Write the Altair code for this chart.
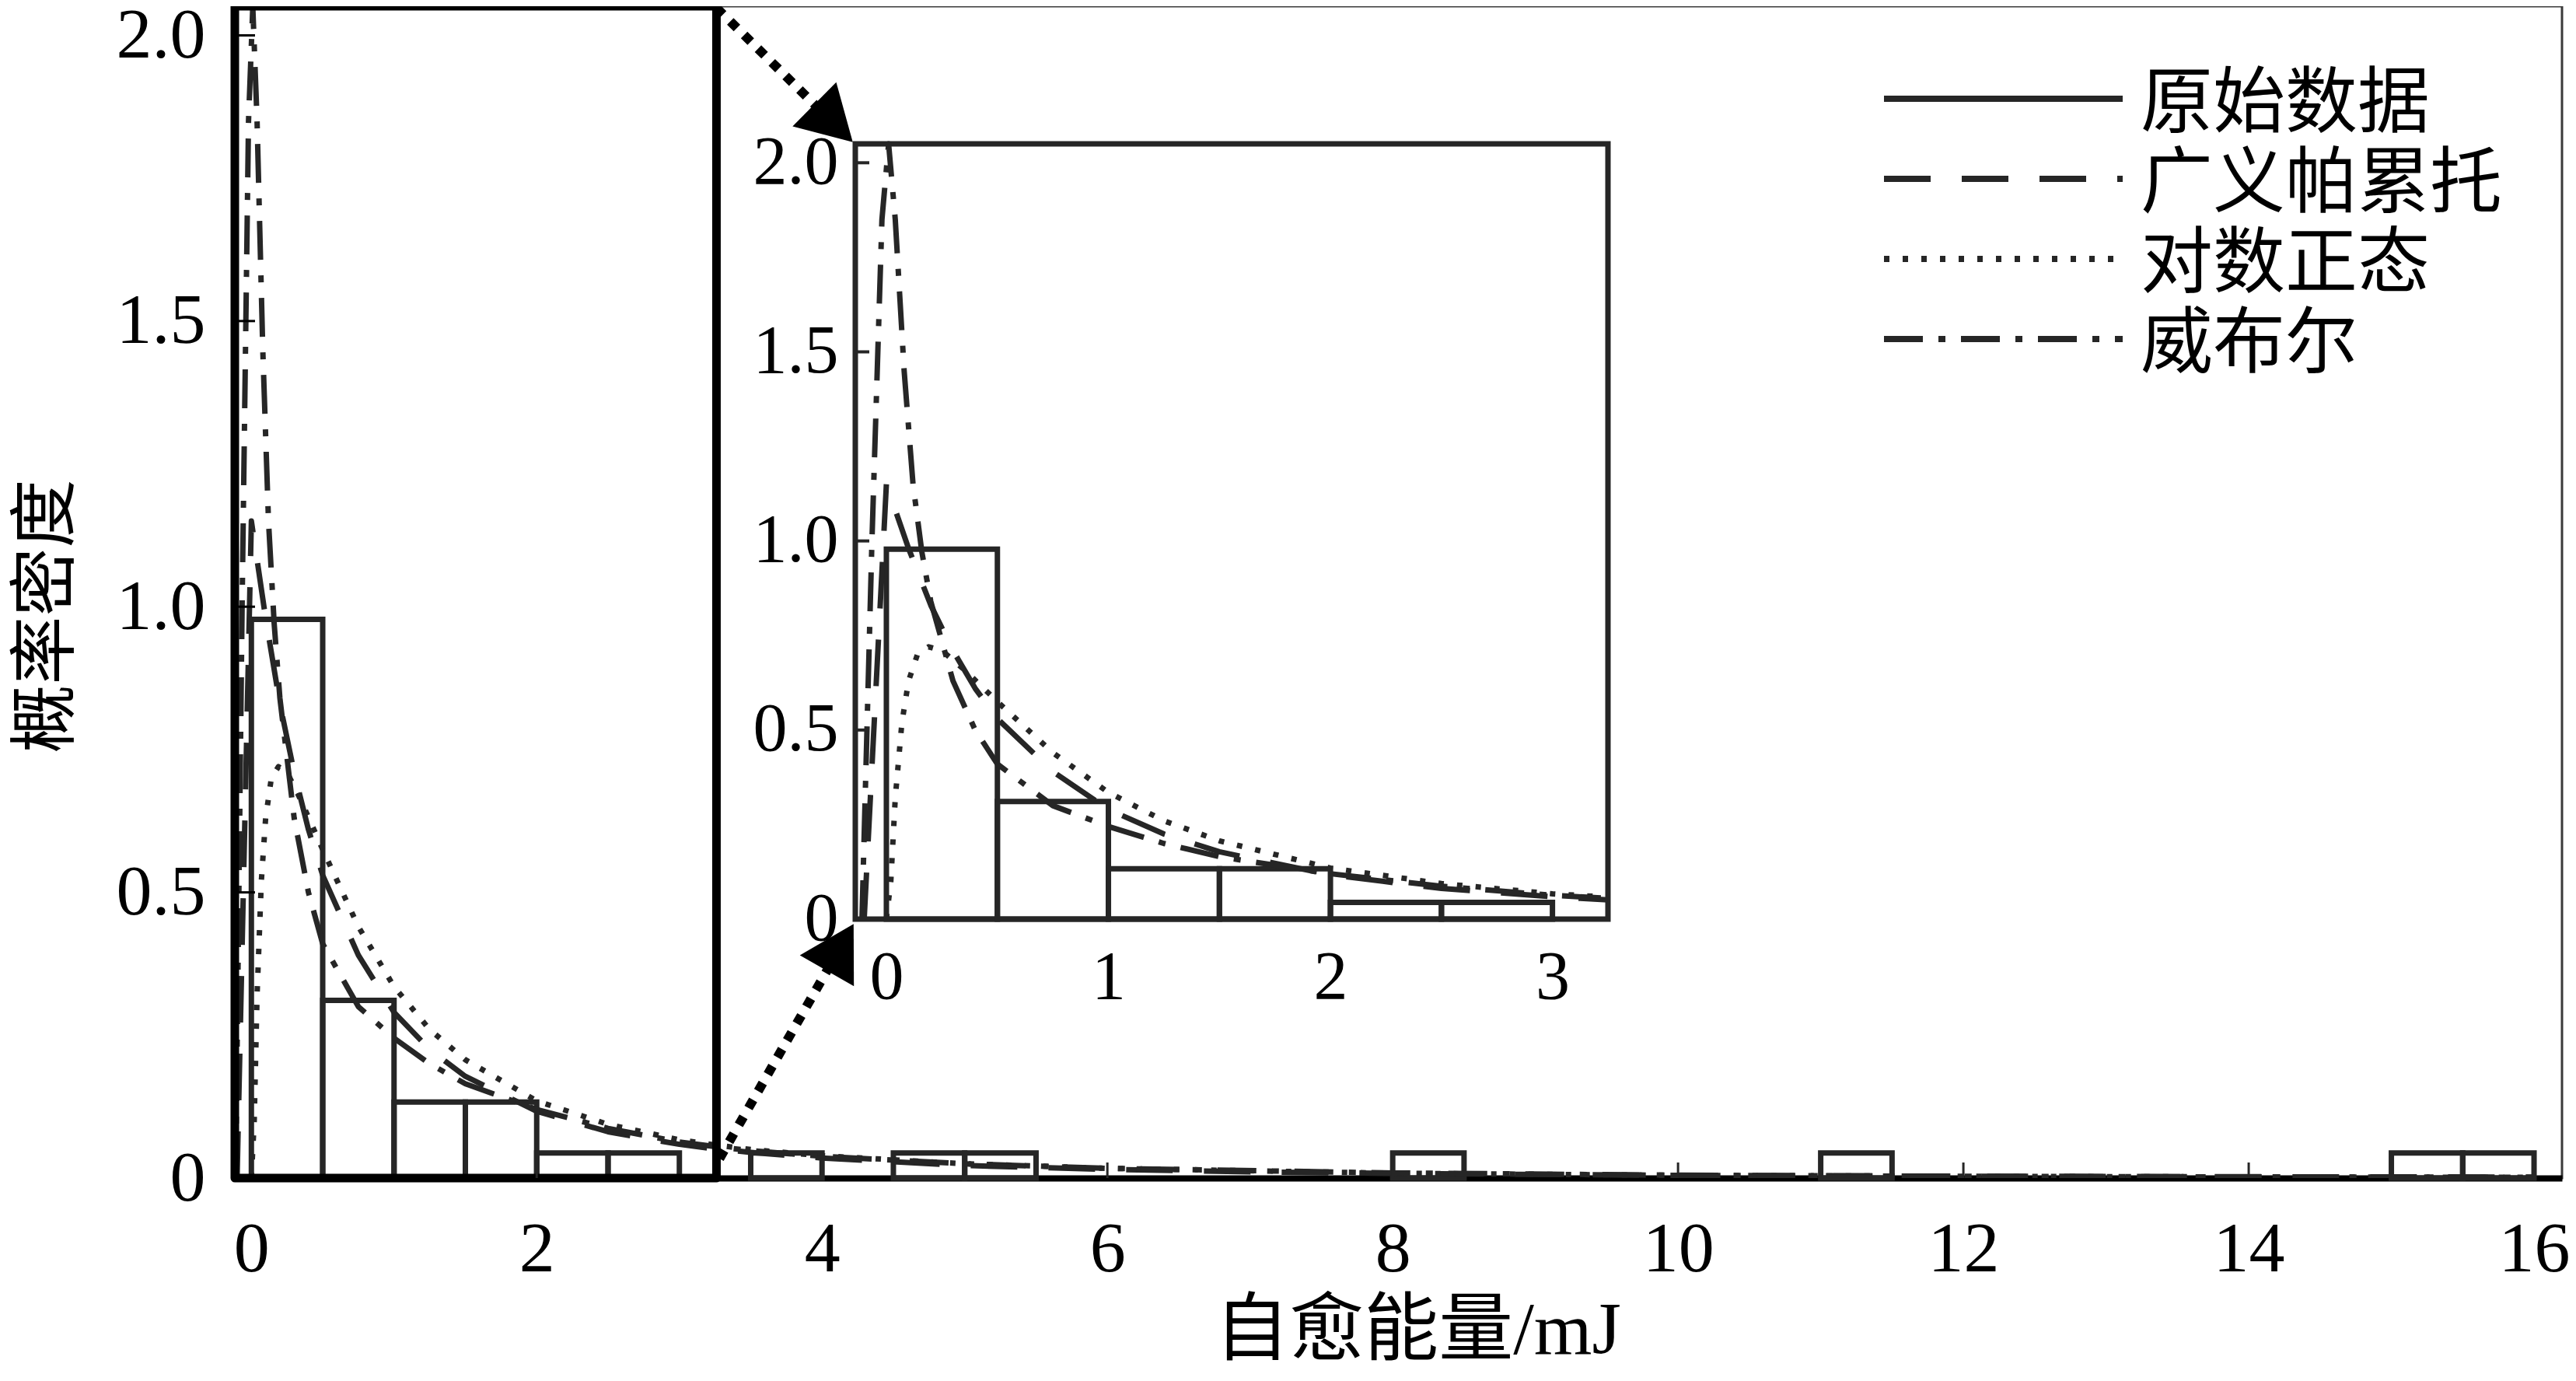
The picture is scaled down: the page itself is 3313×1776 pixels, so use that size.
import math
import altair as alt
import pandas as pd

# ---------------- data ----------------
legend_names = ["原始数据", "广义帕累托", "对数正态", "威布尔"]
x_title = "自愈能量/mJ"
y_title = "概率密度"

# histogram (density, bin width 0.5)
bin_start = [0.0, 0.5, 1.0, 1.5, 2.0, 2.5, 3.5, 4.5, 5.0, 8.0, 11.0, 15.0, 15.5]
bin_density = [0.978, 0.311, 0.133, 0.133, 0.044, 0.044, 0.044, 0.044, 0.044, 0.044, 0.044, 0.044, 0.044]
bin_width = 0.5

# generalized Pareto fit (dashed)
gpd_x = [-0.10, 0.0, 0.1, 0.2, 0.3, 0.4, 0.5, 0.75, 1.0, 1.25, 1.5, 2.0, 2.5, 3.0, 3.25,
         3.5, 4.0, 5.0, 6.0, 7.0, 8.0, 10.0, 12.0, 14.0, 16.0]
gpd_y = [0.0, 1.15, 0.98, 0.83, 0.71, 0.61, 0.53, 0.39, 0.29, 0.225, 0.178, 0.117, 0.081, 0.059, 0.051,
         0.045, 0.035, 0.022, 0.015, 0.011, 0.008, 0.0048, 0.0032, 0.0023, 0.0017]

# log-normal fit (dotted)
logn_x = [0.0, 0.02, 0.04, 0.07, 0.1, 0.14, 0.19, 0.25, 0.35, 0.5, 0.75, 1.0, 1.25, 1.5, 2.0, 2.5,
          3.0, 3.25, 3.5, 4.0, 5.0, 6.0, 8.0, 10.0, 12.0, 14.0, 16.0]
logn_y = [0.0, 0.1, 0.32, 0.52, 0.63, 0.7, 0.72, 0.71, 0.66, 0.575, 0.44, 0.335, 0.26, 0.207, 0.135, 0.094,
          0.067, 0.058, 0.05, 0.039, 0.025, 0.017, 0.0085, 0.0048, 0.003, 0.002, 0.0013]

# Weibull fit (dash-dot)
weib_x = [-0.11, -0.065, -0.02, 0.01, 0.04, 0.08, 0.12, 0.16, 0.2, 0.3, 0.4, 0.5, 0.75, 1.0, 1.25,
          1.5, 2.0, 2.5, 3.0, 3.25, 3.5, 4.0, 5.0, 6.0, 8.0, 10.0, 12.0, 14.0, 16.0]
weib_y = [0.0, 1.0, 1.85, 2.05, 1.85, 1.45, 1.15, 0.97, 0.84, 0.63, 0.5, 0.41, 0.3, 0.245, 0.2,
          0.165, 0.12, 0.087, 0.063, 0.055, 0.048, 0.038, 0.025, 0.017, 0.009, 0.005, 0.003, 0.002, 0.0013]

main_x_ticks = [0, 2, 4, 6, 8, 10, 12, 14, 16]
main_y_ticks = [0, 0.5, 1.0, 1.5, 2.0]
inset_x_ticks = [0, 1, 2, 3]
inset_y_ticks = [0, 0.5, 1.0, 1.5, 2.0]

# ---------------- layout / style ----------------
INK = "#262626"
NUM_FONT = "Liberation Serif"
CJK_FONT = "Liberation Serif, Noto Sans CJK SC"

W, H = 2993, 1507
PAD = {"left": 294, "top": 0, "right": 10, "bottom": 252}
X_DOM = [-0.116, 16.196]
Y_DOM = [0.0, 2.051]
IN_X_DOM = [-0.14, 3.25]
IN_Y_DOM = [0.0, 2.05]
IN_L, IN_R, IN_T, IN_B = 798, 1766, 177, 1174   # inset frame, plot-relative pixels
ZOOM_RIGHT = 3.26

DASH_GPD = [60, 40]
DASH_LOGN = [7, 17]
DASH_WEIB = [50, 20, 9, 20]


def dx(p):
    return X_DOM[0] + p / W * (X_DOM[1] - X_DOM[0])


def dy(p):
    return Y_DOM[0] + (H - p) / H * (Y_DOM[1] - Y_DOM[0])


def px(x):
    return (x - X_DOM[0]) / (X_DOM[1] - X_DOM[0]) * W


xs_main = alt.Scale(domain=X_DOM, nice=False, zero=False)
ys_main = alt.Scale(domain=Y_DOM, nice=False, zero=False)
xs_in = alt.Scale(domain=IN_X_DOM, range=[IN_L, IN_R], nice=False, zero=False)
ys_in = alt.Scale(domain=IN_Y_DOM, range=[IN_B, IN_T], nice=False, zero=False)

LABEL_EXPR = "datum.value == 0 ? '0' : format(datum.value, '.1f')"

ax_main_x = alt.Axis(values=main_x_ticks, orient="bottom", grid=False, ticks=False, tickSize=0,
                     domain=True, domainColor="black", domainWidth=8,
                     labelFont=NUM_FONT, labelFontSize=92, labelColor="black", labelPadding=91,
                     labelBaseline="middle", labelAlign="center", labelFlush=False, labelOverlap=False,
                     titleFont=CJK_FONT, titleFontSize=96, titleFontWeight="normal", titleColor="black",
                     titleX=1521, titleY=196, titleAlign="center", titleBaseline="middle")
ax_main_y = alt.Axis(values=main_y_ticks, orient="left", grid=False, ticks=False, tickSize=0,
                     domain=False, labelFont=NUM_FONT, labelFontSize=92, labelColor="black",
                     labelPadding=38, labelExpr=LABEL_EXPR, labelBaseline="middle",
                     labelFlush=False, labelOverlap=False,
                     titleFont=CJK_FONT, titleFontSize=88, titleFontWeight="normal", titleColor="black",
                     titleX=-242, titleY=784, titleAngle=270, titleAlign="center", titleBaseline="middle")
ax_in_x = alt.Axis(values=inset_x_ticks, orient="bottom", offset=IN_B - H, grid=False, ticks=False,
                   tickSize=0, domain=False, labelFont=NUM_FONT, labelFontSize=88, labelColor="black",
                   labelPadding=75, labelBaseline="middle", labelFlush=False, labelOverlap=False)
ax_in_y = alt.Axis(values=inset_y_ticks, orient="left", offset=-IN_L, grid=False, ticks=False,
                   tickSize=0, domain=False, labelFont=NUM_FONT, labelFontSize=88, labelColor="black",
                   labelPadding=22, labelExpr=LABEL_EXPR, labelBaseline="middle",
                   labelFlush=False, labelOverlap=False)


def XM(f):
    return alt.X(f"{f}:Q", scale=xs_main, axis=ax_main_x, title=x_title)


def YM(f):
    return alt.Y(f"{f}:Q", scale=ys_main, axis=ax_main_y, title=y_title)


def XI(f):
    return alt.X(f"{f}:Q", scale=xs_in, axis=ax_in_x, title="")


def YI(f):
    return alt.Y(f"{f}:Q", scale=ys_in, axis=ax_in_y, title="")


df_bins = pd.DataFrame({"x0": bin_start, "d": bin_density})
df_gpd = pd.DataFrame({"x": gpd_x, "y": gpd_y})
df_logn = pd.DataFrame({"x": logn_x, "y": logn_y})
df_weib = pd.DataFrame({"x": weib_x, "y": weib_y})
curves = [(df_gpd, DASH_GPD), (df_logn, DASH_LOGN), (df_weib, DASH_WEIB)]

# ---------------- main panel ----------------
bars_main = alt.Chart(df_bins).transform_calculate(
    x1=f"datum.x0 + {bin_width}", y0="0"
).mark_rect(fill="transparent", stroke=INK, strokeWidth=7, strokeJoin="miter").encode(
    x=XM("x0"), x2="x1:Q", y=YM("d"), y2="y0:Q")

main_layers = [bars_main]
for df, dash in curves:
    main_layers.append(
        alt.Chart(df).mark_line(stroke=INK, strokeWidth=7, strokeDash=dash, strokeCap="butt",
                                strokeJoin="round", clip=True)
        .encode(x=XM("x"), y=YM("y"), order="x:Q"))

# zoom rectangle on the main panel
df_zoom = pd.DataFrame({"x": [X_DOM[0]], "x2": [ZOOM_RIGHT], "y": [Y_DOM[0]], "y2": [Y_DOM[1]]})
main_layers.append(
    alt.Chart(df_zoom).mark_rect(fill="transparent", stroke="black", strokeWidth=11, strokeJoin="round")
    .encode(x=XM("x"), x2="x2:Q", y=YM("y"), y2="y2:Q"))

# inward ticks
df_yt = pd.DataFrame({"y": [v for v in main_y_ticks if v > 0]})
df_yt["x"] = X_DOM[0]
df_yt["x2"] = dx(26)
main_layers.append(alt.Chart(df_yt).mark_rule(color="black", strokeWidth=3)
                   .encode(x=XM("x"), x2="x2:Q", y=YM("y")))
df_xt = pd.DataFrame({"x": [v for v in main_x_ticks if v > 0]})
df_xt["y"] = Y_DOM[0]
df_xt["y2"] = dy(H - 20)
main_layers.append(alt.Chart(df_xt).mark_rule(color=INK, strokeWidth=3)
                   .encode(x=XM("x"), y=YM("y"), y2="y2:Q"))

# arrows from the zoom rectangle to the inset
arrows = [
    ((px(ZOOM_RIGHT), 2.0), (IN_L - 3, IN_T - 2)),
    ((px(ZOOM_RIGHT) + 4, H - 25), (IN_L - 2, IN_B + 6)),
]
HEAD = 35
rows, heads = [], []
for (sx, sy), (tx, ty) in arrows:
    L = math.hypot(tx - sx, ty - sy)
    ux, uy = (tx - sx) / L, (ty - sy) / L
    cx, cy = tx - HEAD * ux, ty - HEAD * uy
    rows.append({"x": dx(sx), "y": dy(sy), "x2": dx(cx), "y2": dy(cy)})
    ang = math.degrees(math.atan2(uy, ux)) % 360
    heads.append(({"x": dx(cx), "y": dy(cy)}, ang))
main_layers.append(alt.Chart(pd.DataFrame(rows)).mark_rule(color="black", strokeWidth=12,
                                                           strokeDash=[12, 13], strokeCap="butt")
                   .encode(x=XM("x"), y=YM("y"), x2="x2:Q", y2="y2:Q"))
for h, ang in heads:
    main_layers.append(alt.Chart(pd.DataFrame([h])).mark_point(shape="triangle-right", filled=True,
                                                               size=6400, color="black", opacity=1,
                                                               angle=ang)
                       .encode(x=XM("x"), y=YM("y")))

# legend
legend_dash = [None, DASH_GPD, DASH_LOGN, DASH_WEIB]
legend_y = [119, 222, 325, 428]
for name, dash, ly in zip(legend_names, legend_dash, legend_y):
    kw = {"strokeDash": dash} if dash else {}
    ldf = pd.DataFrame({"name": [name]})
    main_layers.append(alt.Chart(ldf).mark_rule(color=INK, strokeWidth=8, strokeCap="butt", **kw)
                       .encode(x=alt.value(2121), x2=alt.value(2428), y=alt.value(ly)))
    main_layers.append(alt.Chart(ldf).mark_text(align="left", baseline="middle", font=CJK_FONT,
                                                fontSize=93, color="black")
                       .encode(x=alt.value(2451), y=alt.value(ly + 8), text="name:N"))

main = alt.layer(*main_layers)

# ---------------- inset panel ----------------
df_frame = pd.DataFrame({"x": [IN_X_DOM[0]], "x2": [IN_X_DOM[1]], "y": [IN_Y_DOM[0]], "y2": [IN_Y_DOM[1]]})
inset_layers = [
    alt.Chart(df_frame).mark_rect(fill="white", stroke=INK, strokeWidth=7)
    .encode(x=XI("x"), x2="x2:Q", y=YI("y"), y2="y2:Q"),
    alt.Chart(df_bins).transform_filter(f"datum.x0 < {IN_X_DOM[1]}").transform_calculate(
        x1=f"min(datum.x0 + {bin_width}, {IN_X_DOM[1]})", y0="0"
    ).mark_rect(fill="transparent", stroke=INK, strokeWidth=7)
    .encode(x=XI("x0"), x2="x1:Q", y=YI("d"), y2="y0:Q"),
]
for df, dash in curves:
    inset_layers.append(
        alt.Chart(df).transform_filter(f"datum.x >= {IN_X_DOM[0]} && datum.x <= {IN_X_DOM[1]}")
        .mark_line(stroke=INK, strokeWidth=7, strokeDash=dash, strokeCap="butt", strokeJoin="round")
        .encode(x=XI("x"), y=YI("y"), order="x:Q"))
df_iyt = pd.DataFrame({"y": [v for v in inset_y_ticks if v > 0]})
df_iyt["x"] = IN_X_DOM[0]
df_iyt["x2"] = IN_X_DOM[0] + 18 / (IN_R - IN_L) * (IN_X_DOM[1] - IN_X_DOM[0])
inset_layers.append(alt.Chart(df_iyt).mark_rule(color=INK, strokeWidth=4)
                    .encode(x=XI("x"), x2="x2:Q", y=YI("y")))
inset = alt.layer(*inset_layers)

chart = alt.layer(main, inset).resolve_scale(x="independent", y="independent").properties(
    width=W, height=H, padding=PAD, background="white",
    autosize=alt.AutoSizeParams(type="none"),
).configure_view(stroke="#3a3a3a", strokeWidth=3)

chart.save("out.html", embed_options={"renderer": "svg", "actions": False})
